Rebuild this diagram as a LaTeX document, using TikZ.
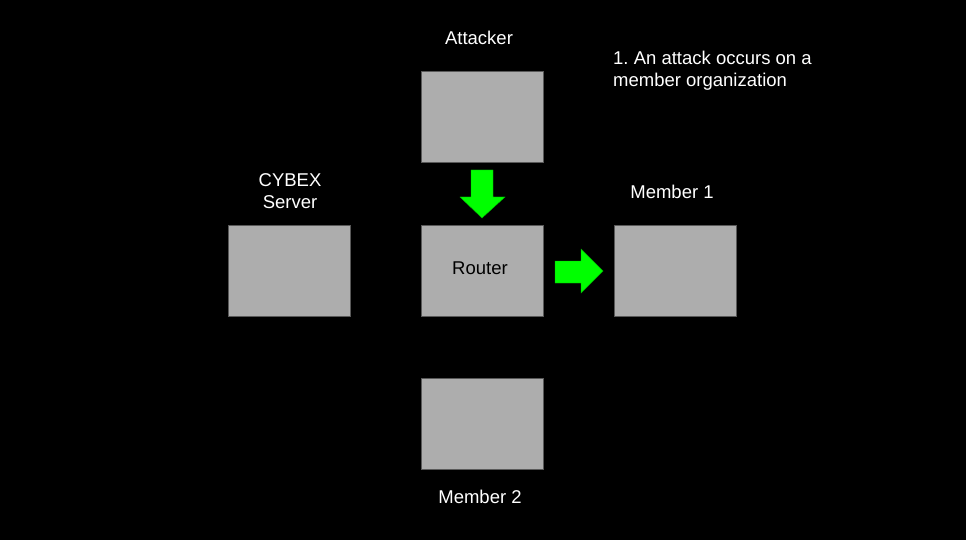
\documentclass[tikz,border=0pt]{standalone}
\usepackage{fontspec}
\setmainfont{Liberation Sans}
\frenchspacing
\definecolor{boxfill}{HTML}{ADADAD}
\definecolor{boxline}{HTML}{595959}
\definecolor{arrowgreen}{HTML}{00FF00}
\begin{document}
\begin{tikzpicture}[x=1pt,y=-1pt,
  box/.style={draw=boxline,line width=1pt,fill=boxfill,minimum width=122pt,minimum height=91pt,inner sep=0pt},
  lbl/.style={text=white,font=\fontsize{18.5}{22}\selectfont,align=center,inner sep=0pt},
  garrow/.style={fill=arrowgreen,draw=arrowgreen!70!black,line width=0.4pt}]
\fill[black] (0,0) rectangle (966,540);
\useasboundingbox (0,0) rectangle (966,540);
\node[box] (attacker) at (482,117.5) {};
\node[box] (cybex) at (289,270.5) {};
\node[box] (router) at (482,270.5) {};
\node[font=\fontsize{18.5}{22}\selectfont,inner sep=0pt] (routertxt) at (480,268) {Router};
\node[box] (member1) at (675,270.5) {};
\node[box] (member2) at (482,423.5) {};
\node[lbl] (lattacker) at (479,38) {Attacker};
\node[lbl] (lcybex) at (290,191) {CYBEX\\Server};
\node[lbl] (lmember1) at (672,192) {Member 1};
\node[lbl] (lmember2) at (480,497) {Member 2};
\node[lbl,align=left,anchor=west] (note) at (613,70.5) {1. An attack occurs on a\\member organization};
\draw[garrow] (471,170) -- (493,170) -- (493,197) -- (505,197) -- (482,218) -- (460,197) -- (471,197) -- cycle;
\draw[garrow] (555,261) -- (581,261) -- (581,249) -- (603,271) -- (581,293) -- (581,283) -- (555,283) -- cycle;
\end{tikzpicture}
\end{document}
